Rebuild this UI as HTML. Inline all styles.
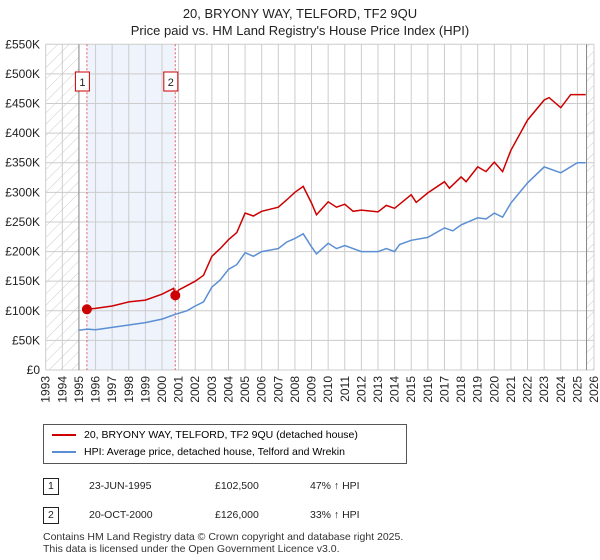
<!DOCTYPE html>
<html><head><meta charset="utf-8"><style>
body{margin:0;background:#fff;font-family:"Liberation Sans","DejaVu Sans",sans-serif;}
#wrap{position:relative;width:600px;height:560px;overflow:hidden}
.t{position:absolute;font-size:11px;color:#222;white-space:nowrap}
</style></head><body><div id="wrap">
<div class="t" style="left:0;width:600px;text-align:center;top:5px;font-size:13px;line-height:17px">20, BRYONY WAY, TELFORD, TF2 9QU<br>Price paid vs. HM Land Registry's House Price Index (HPI)</div>
<svg id="ch" width="600" height="420" style="position:absolute;left:0;top:0">
<defs><pattern id="hat" width="8" height="8" patternUnits="userSpaceOnUse" patternTransform="rotate(45)"><line x1="0" y1="0" x2="0" y2="8" stroke="#ccc" stroke-width="1"/></pattern></defs>
</svg>
<div style="position:absolute;left:43px;top:424px;width:362px;height:38px;border:1px solid #555">
<div style="position:absolute;left:8px;top:4px;font-size:10.5px"><span style="display:inline-block;width:24px;height:2px;background:#cc0000;vertical-align:middle;margin-right:8px"></span>20, BRYONY WAY, TELFORD, TF2 9QU (detached house)</div>
<div style="position:absolute;left:8px;top:21px;font-size:10.5px"><span style="display:inline-block;width:24px;height:2px;background:#5b8fd4;vertical-align:middle;margin-right:8px"></span>HPI: Average price, detached house, Telford and Wrekin</div>
</div>
<div>
<div class="t" style="left:43px;top:478px;border:1px solid #222;padding:0 4px;font-size:10.5px;line-height:15px">1</div>
<div class="t" style="left:89px;top:480px;font-size:10.5px">23-JUN-1995</div>
<div class="t" style="left:215px;top:480px;font-size:10.5px">£102,500</div>
<div class="t" style="left:310px;top:480px;font-size:10.5px">47% ↑ HPI</div>
</div>
<div>
<div class="t" style="left:43px;top:507px;border:1px solid #222;padding:0 4px;font-size:10.5px;line-height:15px">2</div>
<div class="t" style="left:89px;top:509px;font-size:10.5px">20-OCT-2000</div>
<div class="t" style="left:215px;top:509px;font-size:10.5px">£126,000</div>
<div class="t" style="left:310px;top:509px;font-size:10.5px">33% ↑ HPI</div>
</div>
<div class="t" style="left:43px;top:531px;font-size:10.5px;line-height:12px;color:#333">Contains HM Land Registry data © Crown copyright and database right 2025.<br>This data is licensed under the Open Government Licence v3.0.</div>
</div>
<script>
const yTicks=[0,50,100,150,200,250,300,350,400,450,500,550];
const years=[1993,1994,1995,1996,1997,1998,1999,2000,2001,2002,2003,2004,2005,2006,2007,2008,2009,2010,2011,2012,2013,2014,2015,2016,2017,2018,2019,2020,2021,2022,2023,2024,2025,2026];
const hpiT=[1995,1995.5,1996,1997,1998,1999,2000,2000.8,2001.5,2002,2002.5,2003,2003.5,2004,2004.5,2005,2005.5,2006,2007,2007.5,2008,2008.5,2009,2009.3,2010,2010.5,2011,2012,2013,2013.5,2014,2014.3,2015,2016,2017,2017.5,2018,2019,2019.5,2020,2020.5,2021,2022,2023,2024,2025,2025.5];
const hpiV=[67,69,68,72,76,80,86,94,100,108,115,140,152,170,178,198,192,200,205,216,222,230,208,196,214,205,210,200,200,205,200,212,219,224,240,235,245,257,255,265,258,282,316,343,333,350,350];
const ppT=[1995.48,1996,1997,1998,1999,2000,2000.7,2000.8,2001,2002,2002.5,2003,2003.5,2004,2004.5,2005,2005.5,2006,2007,2007.5,2008,2008.5,2009,2009.3,2010,2010.5,2011,2011.5,2012,2013,2013.5,2014,2015,2015.3,2016,2017,2017.3,2018,2018.3,2019,2019.5,2020,2020.5,2021,2022,2023,2023.3,2024,2024.6,2025,2025.5];
const ppV=[102.5,104,108,115,118,128,138,126,135,150,160,192,205,220,232,265,260,268,275,287,300,310,282,262,284,275,280,268,270,267,278,273,296,283,299,318,307,326,318,343,335,351,335,371,422,456,460,443,465,465,465];
const saleT=[1995.48,2000.8];
const saleV=[102.5,126];
const saleLabels=["1","2"];
const ns="http://www.w3.org/2000/svg",svg=document.getElementById('ch');
const X=t=>45.7+(t-1993)*(594-45.7)/33, Y=v=>370-v*(370-44.3)/550;
function mk(tag,a,name){const e=document.createElementNS(ns,tag);for(const k in a)e.setAttribute(k,a[k]);


svg.appendChild(e);return e;}
mk('rect',{x:X(1993),y:Y(550),width:X(1995)-X(1993),height:Y(0)-Y(550),fill:'url(#hat)'},'hatch-left');
mk('rect',{x:X(2025.55),y:Y(550),width:X(2026)-X(2025.55),height:Y(0)-Y(550),fill:'url(#hat)'},'hatch-right');
mk('rect',{x:X(saleT[0]),y:Y(550),width:X(saleT[1])-X(saleT[0]),height:Y(0)-Y(550),fill:'#eef3fc'},'ownership-shade');
yTicks.forEach(v=>{mk('line',{x1:X(1993),x2:X(2026),y1:Y(v),y2:Y(v),stroke:'#ccc'},'y-grid');
const t=mk('text',{x:40,y:Y(v)+4,'text-anchor':'end','font-size':12,fill:'#222'},'y-tick-label');t.textContent=v==0?'£0':'£'+v+'K';});
years.forEach(y=>{mk('line',{x1:X(y),x2:X(y),y1:Y(550),y2:Y(0),stroke:'#ccc'},'x-grid');
const t=mk('text',{x:0,y:0,'text-anchor':'end','font-size':12,fill:'#222',transform:`translate(${X(y)+4},${Y(0)+6}) rotate(-90)`},'x-tick-label');t.textContent=y;});
mk('line',{x1:X(1995),x2:X(1995),y1:Y(550),y2:Y(0),stroke:'#888'},'data-start-line');
mk('line',{x1:X(2025.55),x2:X(2025.55),y1:Y(550),y2:Y(0),stroke:'#888'},'data-end-line');
saleT.forEach((t,i)=>{mk('line',{x1:X(t),x2:X(t),y1:Y(550),y2:Y(0),stroke:'#e06060','stroke-dasharray':'2,2'},'sale-marker-line');
mk('rect',{x:X(t)-11.5,y:72,width:14,height:19,fill:'#fff',stroke:'#cc0000'},'sale-label-box');
const tx=mk('text',{x:X(t)-4.5,y:86,'text-anchor':'middle','font-size':11,fill:'#222'},'sale-label');tx.textContent=saleLabels[i];});
const path=(T,V)=>T.map((t,i)=>(i?'L':'M')+X(t).toFixed(1)+','+Y(V[i]).toFixed(1)).join('');
mk('path',{d:path(hpiT,hpiV),fill:'none',stroke:'#5b8fd4','stroke-width':1.5},'hpi-line');
mk('path',{d:path(ppT,ppV),fill:'none',stroke:'#cc0000','stroke-width':1.5},'price-paid-line');
saleT.forEach((t,i)=>mk('circle',{cx:X(t),cy:Y(saleV[i]),r:5,fill:'#cc0000'},'sale-point'));
</script></body></html>
